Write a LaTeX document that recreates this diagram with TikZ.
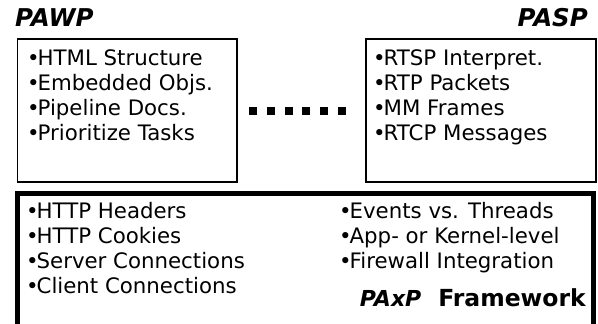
\documentclass[tikz,border=0pt]{standalone}
\usepackage{fontspec}
\setmainfont{DejaVu Sans}
\newcommand\bul{•\kern-0.1em}
\begin{document}
\begin{tikzpicture}[x=1pt,y=-1pt,
  item/.style={anchor=base west,inner sep=0pt,font=\fontsize{21.3}{25}\selectfont},
  ttl/.style={inner sep=0pt,font=\fontsize{24.5}{27}\selectfont\bfseries\itshape},
  thinbox/.style={draw=black,line width=1.3pt},
  thickbox/.style={draw=black,line width=5pt},
  sq/.style={fill=black,draw=none,minimum size=8pt,inner sep=0pt}]
\clip (0,0) rectangle (598,324);
\fill[white] (0,0) rectangle (598,324);
% titles
\node[ttl,anchor=base west] (pawp) at (15,27) {PAWP};
\node[ttl,anchor=base east] (pasp) at (588,27) {PASP};
% boxes
\draw[thinbox] (17.5,39) rectangle (237,182);
\draw[thinbox] (366,39) rectangle (596,182);
\draw[thickbox] (17.5,193) rectangle (593.5,345);
% left box items
\node[item] (a1) at (27,65) {\bul HTML Structure};
\node[item] (a2) at (27,90) {\bul Embedded Objs.};
\node[item] (a3) at (27,115) {\bul Pipeline Docs.};
\node[item] (a4) at (27,140) {\bul Prioritize Tasks};
% right box items
\node[item] (b1) at (373,65) {\bul RTSP Interpret.};
\node[item] (b2) at (373,90) {\bul RTP Packets};
\node[item] (b3) at (373,115) {\bul MM Frames};
\node[item] (b4) at (373,140) {\bul RTCP Messages};
% dots
\foreach \i/\x in {1/253,2/271,3/289,4/306,5/324,6/342}
  \node[sq] (d\i) at (\x,111) {};
% bottom items
\node[item] (c1) at (26,218) {\bul HTTP Headers};
\node[item] (c2) at (26,243) {\bul HTTP Cookies};
\node[item] (c3) at (26,268) {\bul Server Connections};
\node[item] (c4) at (26,293) {\bul Client Connections};
\node[item] (e1) at (339,218) {\bul Events vs. Threads};
\node[item] (e2) at (339,243) {\bul App- or Kernel-level};
\node[item] (e3) at (339,268) {\bul Firewall Integration};
\node[anchor=base east,inner sep=0pt,font=\bfseries] (fw) at (586,306)
  {{\fontsize{22}{25}\selectfont\itshape PAxP}\hspace{17pt}{\fontsize{23.5}{25}\selectfont Framework}};
\end{tikzpicture}
\end{document}
